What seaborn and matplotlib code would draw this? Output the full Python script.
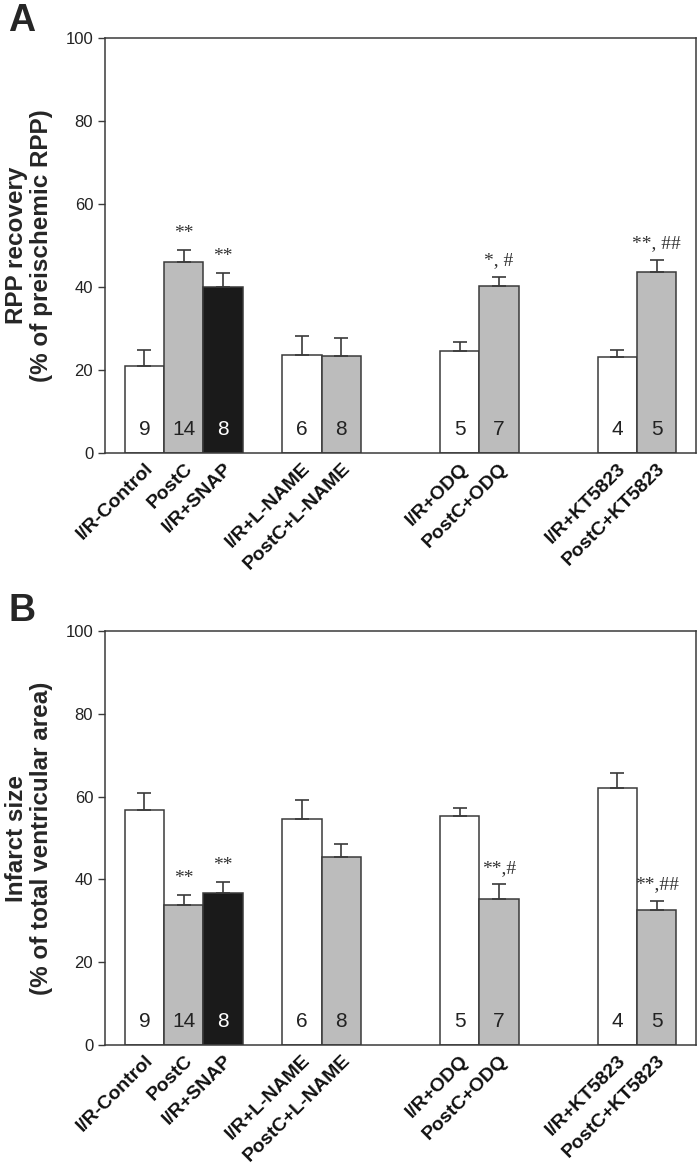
import matplotlib
matplotlib.use("Agg")
import matplotlib.pyplot as plt
import numpy as np
import pandas as pd
import seaborn as sns

# dane
groups = ['I/R-Control', 'PostC', 'I/R+SNAP', 'I/R+L-NAME', 'PostC+L-NAME',
          'I/R+ODQ', 'PostC+ODQ', 'I/R+KT5823', 'PostC+KT5823']
slots = [1, 2, 3, 5, 6, 9, 10, 13, 14]
counts = ['9', '14', '8', '6', '8', '5', '7', '4', '5']
kinds = ['ir', 'postc', 'snap', 'ir', 'postc', 'ir', 'postc', 'ir', 'postc']

rpp_mean = [20.9, 46.1, 40.1, 23.7, 23.3, 24.6, 40.2, 23.2, 43.5]
rpp_sem = [3.8, 2.9, 3.3, 4.4, 4.5, 2.2, 2.2, 1.7, 3.0]
rpp_marks = ['', '**', '**', '', '', '', '*, #', '', '**, ##']

infarct_mean = [56.7, 33.9, 36.8, 54.6, 45.5, 55.3, 35.2, 62.0, 32.5]
infarct_sem = [4.2, 2.4, 2.6, 4.6, 3.0, 1.9, 3.6, 3.6, 2.4]
infarct_marks = ['', '**', '**', '', '', '', '**,#', '', '**,##']

palette = {'ir': '#ffffff', 'postc': '#bcbcbc', 'snap': '#1a1a1a'}
edge = '#3a3a3a'

sns.set_style('white')
plt.rcParams['font.family'] = ['Liberation Sans', 'DejaVu Sans']

fig = plt.figure(figsize=(6.97, 11.66), dpi=100)
axA = fig.add_axes([0.1506, 0.6115, 0.848, 0.3559])
axB = fig.add_axes([0.1506, 0.1038, 0.848, 0.3550])


def draw_panel(ax, means, sems, marks, ylabel):
    df = pd.DataFrame({'slot': slots, 'value': means, 'kind': kinds})
    sns.barplot(data=df, x='slot', y='value', hue='kind', palette=palette,
                native_scale=True, width=1.0, dodge=False, legend=False,
                edgecolor=edge, linewidth=1.1, errorbar=None, ax=ax)
    # tylko górne wąsy
    ax.errorbar(slots, means, yerr=[np.zeros(len(sems)), sems], fmt='none',
                ecolor=edge, elinewidth=1.2, capsize=5, capthick=1.2, zorder=1)
    for s, m, e, t in zip(slots, means, sems, marks):
        if t:
            ax.text(s, m + e + 1.8, t, ha='center', va='bottom', fontsize=14,
                    family='Liberation Serif', color='#333333')
    for s, n, k in zip(slots, counts, kinds):
        ax.text(s, 5.6, n, ha='center', va='center', fontsize=15,
                color='white' if k == 'snap' else '#222222')

    ax.set_xlim(0, 15)
    ax.set_ylim(0, 100)
    ax.set_yticks(np.arange(0, 101, 20))
    ax.set_xticks(slots)
    ax.set_xticklabels(groups, rotation=45, ha='right', rotation_mode='anchor',
                       fontsize=14, fontweight='bold', color='#111111')
    ax.tick_params(axis='x', length=0, pad=5)
    ax.tick_params(axis='y', direction='out', length=5, width=1, color=edge,
                   labelsize=12, labelcolor='#222222', left=True)
    ax.set_xlabel('')
    ax.set_ylabel(ylabel, fontsize=17.5, fontweight='bold', linespacing=1.1,
                  labelpad=9)
    for sp in ax.spines.values():
        sp.set_visible(True)
        sp.set_color(edge)
        sp.set_linewidth(1.1)


draw_panel(axA, rpp_mean, rpp_sem, rpp_marks,
           'RPP recovery\n(% of preischemic RPP)')
draw_panel(axB, infarct_mean, infarct_sem, infarct_marks,
           'Infarct size\n(% of total ventricular area)')

fig.text(0.012, 0.997, 'A', fontsize=27, fontweight='bold', va='top')
fig.text(0.012, 0.491, 'B', fontsize=27, fontweight='bold', va='top')

fig.savefig('out.png', dpi=100)
